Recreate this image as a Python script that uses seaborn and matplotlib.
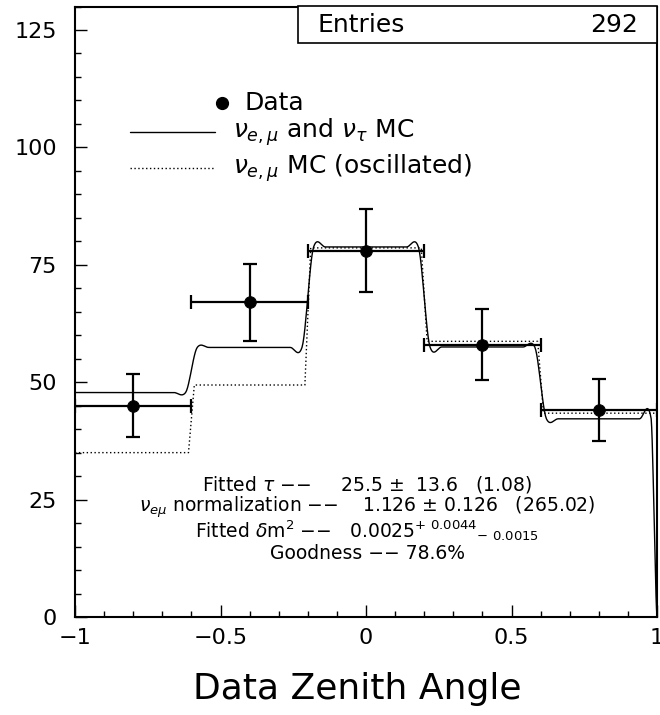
import numpy as np
import matplotlib
matplotlib.use("Agg")
import matplotlib.pyplot as plt
import seaborn as sns
from matplotlib.patches import Rectangle
from matplotlib.ticker import MultipleLocator

# 데이터
bin_edges = [-1.0, -0.6, -0.2, 0.2, 0.6, 1.0]
data_x = [-0.8, -0.4, 0.0, 0.4, 0.8]
data_y = [45, 67, 78, 58, 44]
data_yerr = [6.7, 8.2, 8.8, 7.6, 6.6]
data_xerr = [0.2, 0.2, 0.2, 0.2, 0.2]
mc_total = [47.8, 57.4, 78.8, 57.5, 42.2]   # nu_e,mu + nu_tau MC
mc_total_end = 0.0                          # x=1 에서 0으로 떨어짐
mc_osc = [35.0, 49.4, 78.6, 58.7, 43.4]     # nu_e,mu MC (oscillated)
entries = 292
xticks = [-1, -0.5, 0, 0.5, 1]
xtick_labels = ["\u22121", "\u22120.5", "0", "0.5", "1"]
yticks = [0, 25, 50, 75, 100, 125]

sns.set_style("ticks")
plt.rcParams['font.family'] = ['DejaVu Sans']
plt.rcParams['mathtext.fontset'] = 'dejavusans'
for k in ['text.color', 'axes.labelcolor', 'xtick.color', 'ytick.color', 'axes.edgecolor']:
    plt.rcParams[k] = 'black'


def fine_hist(levels, nsub):
    # 각 구간을 잘게 나눈 히스토그램 (bin 중심값)
    xs, ys = [], []
    for i, lv in enumerate(levels):
        lo, hi = bin_edges[i], bin_edges[i + 1]
        w = (hi - lo) / nsub
        for k in range(nsub):
            xs.append(lo + (k + 0.5) * w)
            ys.append(lv)
    return np.array(xs), np.array(ys)


def cardinal(x, y, s=0.35, n=12):
    # ROOT "C" 옵션처럼 부드러운 곡선 (cardinal spline)
    xp = np.concatenate([[x[0]], x, [x[-1]]])
    yp = np.concatenate([[y[0]], y, [y[-1]]])
    ox, oy = [], []
    t = np.linspace(0, 1, n, endpoint=False)
    h00 = 2 * t ** 3 - 3 * t ** 2 + 1
    h10 = t ** 3 - 2 * t ** 2 + t
    h01 = -2 * t ** 3 + 3 * t ** 2
    h11 = t ** 3 - t ** 2
    for i in range(1, len(xp) - 2):
        p0, p1, p2, p3 = yp[i - 1:i + 3]
        m1 = s * (p2 - p0)
        m2 = s * (p3 - p1)
        yy = h00 * p1 + h10 * m1 + h01 * p2 + h11 * m2
        xx = xp[i] + (xp[i + 1] - xp[i]) * t
        ox.extend(xx)
        oy.extend(yy)
    ox.append(xp[-2])
    oy.append(yp[-2])
    return np.array(ox), np.array(oy)


fig = plt.figure(figsize=(6.6, 7.15), dpi=100)
ax = fig.add_axes([75 / 660, 1 - 617 / 715, 582 / 660, 610.5 / 715])

# 실선: nu_e,mu and nu_tau MC
fx, fy = fine_hist(mc_total, 10)
fx = np.concatenate([[bin_edges[0]], fx, [bin_edges[-1]]])
fy = np.concatenate([[mc_total[0]], fy, [mc_total_end]])
sx, sy = cardinal(fx, fy)
sns.lineplot(x=sx, y=sy, ax=ax, sort=False, estimator=None, color="black", lw=1.0)

# 점선: oscillated MC
gx, gy = fine_hist(mc_osc, 20)
gx = np.concatenate([[bin_edges[0]], gx, [bin_edges[-1]]])
gy = np.concatenate([[mc_osc[0]], gy, [mc_osc[-1]]])
sns.lineplot(x=gx, y=gy, ax=ax, sort=False, estimator=None, color="black", lw=1.0,
             linestyle=(0, (1, 1.8)))

# 데이터 점
ax.errorbar(data_x, data_y, xerr=data_xerr, yerr=data_yerr, fmt="none", ecolor="black",
            elinewidth=1.6, capsize=4.8, capthick=1.6, zorder=3)
sns.scatterplot(x=data_x, y=data_y, ax=ax, color="black", s=70, edgecolor="black", zorder=4)

ax.set_xlim(-1, 1)
ax.set_ylim(0, 130)
ax.set_xticks(xticks)
ax.set_xticklabels(xtick_labels)
ax.set_yticks(yticks)
ax.xaxis.set_minor_locator(MultipleLocator(0.1))
ax.yaxis.set_minor_locator(MultipleLocator(5))
ax.tick_params(which="major", direction="in", length=8.6, width=1.0, labelsize=16, pad=8)
ax.tick_params(which="minor", direction="in", length=4.5, width=1.0)
ax.tick_params(axis="y", which="major", pad=13)
for sp in ax.spines.values():
    sp.set_linewidth(1.5)
    sp.set_visible(True)

ax.set_xlabel("Data Zenith Angle", fontsize=26)
ax.xaxis.set_label_coords(0.4845, -0.09)
ax.set_ylabel("")

# 통계 박스
ax.add_patch(Rectangle((0.383, 0.940), 0.617, 0.06, transform=ax.transAxes,
                       facecolor="white", edgecolor="black", lw=1.2, clip_on=False, zorder=5))
ax.text(0.4175, 0.969, "Entries", transform=ax.transAxes, fontsize=18, va="center", ha="left", zorder=6)
ax.text(0.967, 0.969, str(entries), transform=ax.transAxes, fontsize=18, va="center", ha="right", zorder=6)

# 범례 (수동)
ax.plot([0.2526], [0.842], "o", color="black", ms=8.5, transform=ax.transAxes)
ax.text(0.292, 0.842, "Data", transform=ax.transAxes, fontsize=18, va="center")
ax.plot([0.0945, 0.2405], [0.794, 0.794], color="black", lw=1.0, transform=ax.transAxes)
ax.text(0.271, 0.794, r"$\nu_{e,\mu}$ and $\nu_\tau$ MC", transform=ax.transAxes, fontsize=18, va="center")
ax.plot([0.0945, 0.2405], [0.7355, 0.7355], color="black", lw=1.0, linestyle=(0, (1, 1.8)),
        transform=ax.transAxes)
ax.text(0.271, 0.7355, r"$\nu_{e,\mu}$ MC (oscillated)", transform=ax.transAxes, fontsize=18, va="center")

# 피팅 결과 텍스트
fit_lines = [
    "Fitted $\\tau$ \u2212\u2212     25.5 $\\pm$  13.6   (1.08)",
    "$\\nu_{e\\mu}$ normalization \u2212\u2212    1.126 $\\pm$ 0.126   (265.02)",
    "Fitted $\\delta$m$^2$ \u2212\u2212   0.0025$^{+\\ 0.0044}$$_{-\\ 0.0015}$",
    "Goodness \u2212\u2212 78.6%",
]
fit_y = [0.217, 0.179, 0.141, 0.104]
for s, yy in zip(fit_lines, fit_y):
    ax.text(0.502, yy, s, transform=ax.transAxes, fontsize=13.5, ha="center", va="center")

fig.savefig("out.png", dpi=100)
